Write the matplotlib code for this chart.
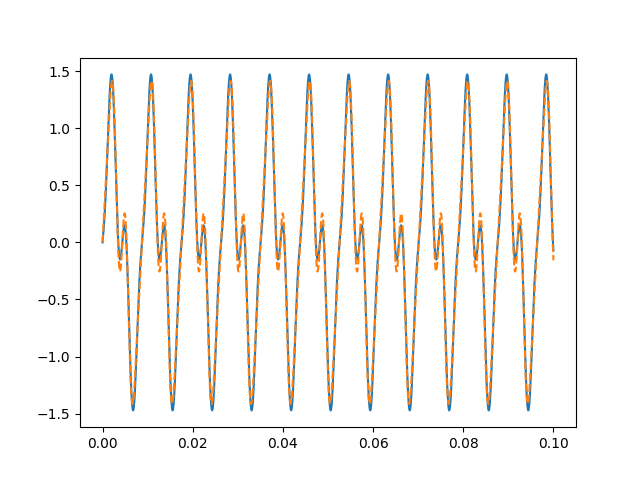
import numpy as np
import matplotlib
matplotlib.use('Agg')
import matplotlib.pyplot as plt

# leitura do grafico: frequencia fundamental e amplitudes dos harmonicos
t_inicio = 0
t_fim = 0.1
npoints = 2000
f0 = 114.1
harmonicos = [1, 2, 3, 4]
amp_original = [1.067, 0.317, -0.359, 0.0]
amp_reconstruido = [1.05, 0.317, -0.359, 0.1]

t = np.linspace(t_inicio, t_fim, npoints)

y = np.zeros_like(t)
for k, a in zip(harmonicos, amp_original):
    y += a * np.sin(2*np.pi*k*f0*t)

y_rec = np.zeros_like(t)
for k, a in zip(harmonicos, amp_reconstruido):
    y_rec += a * np.sin(2*np.pi*k*f0*t)

plt.figure(figsize=(6.4, 4.8))
plt.plot(t, y)
plt.plot(t, y_rec, '--')
plt.savefig('out.png', dpi=100)
